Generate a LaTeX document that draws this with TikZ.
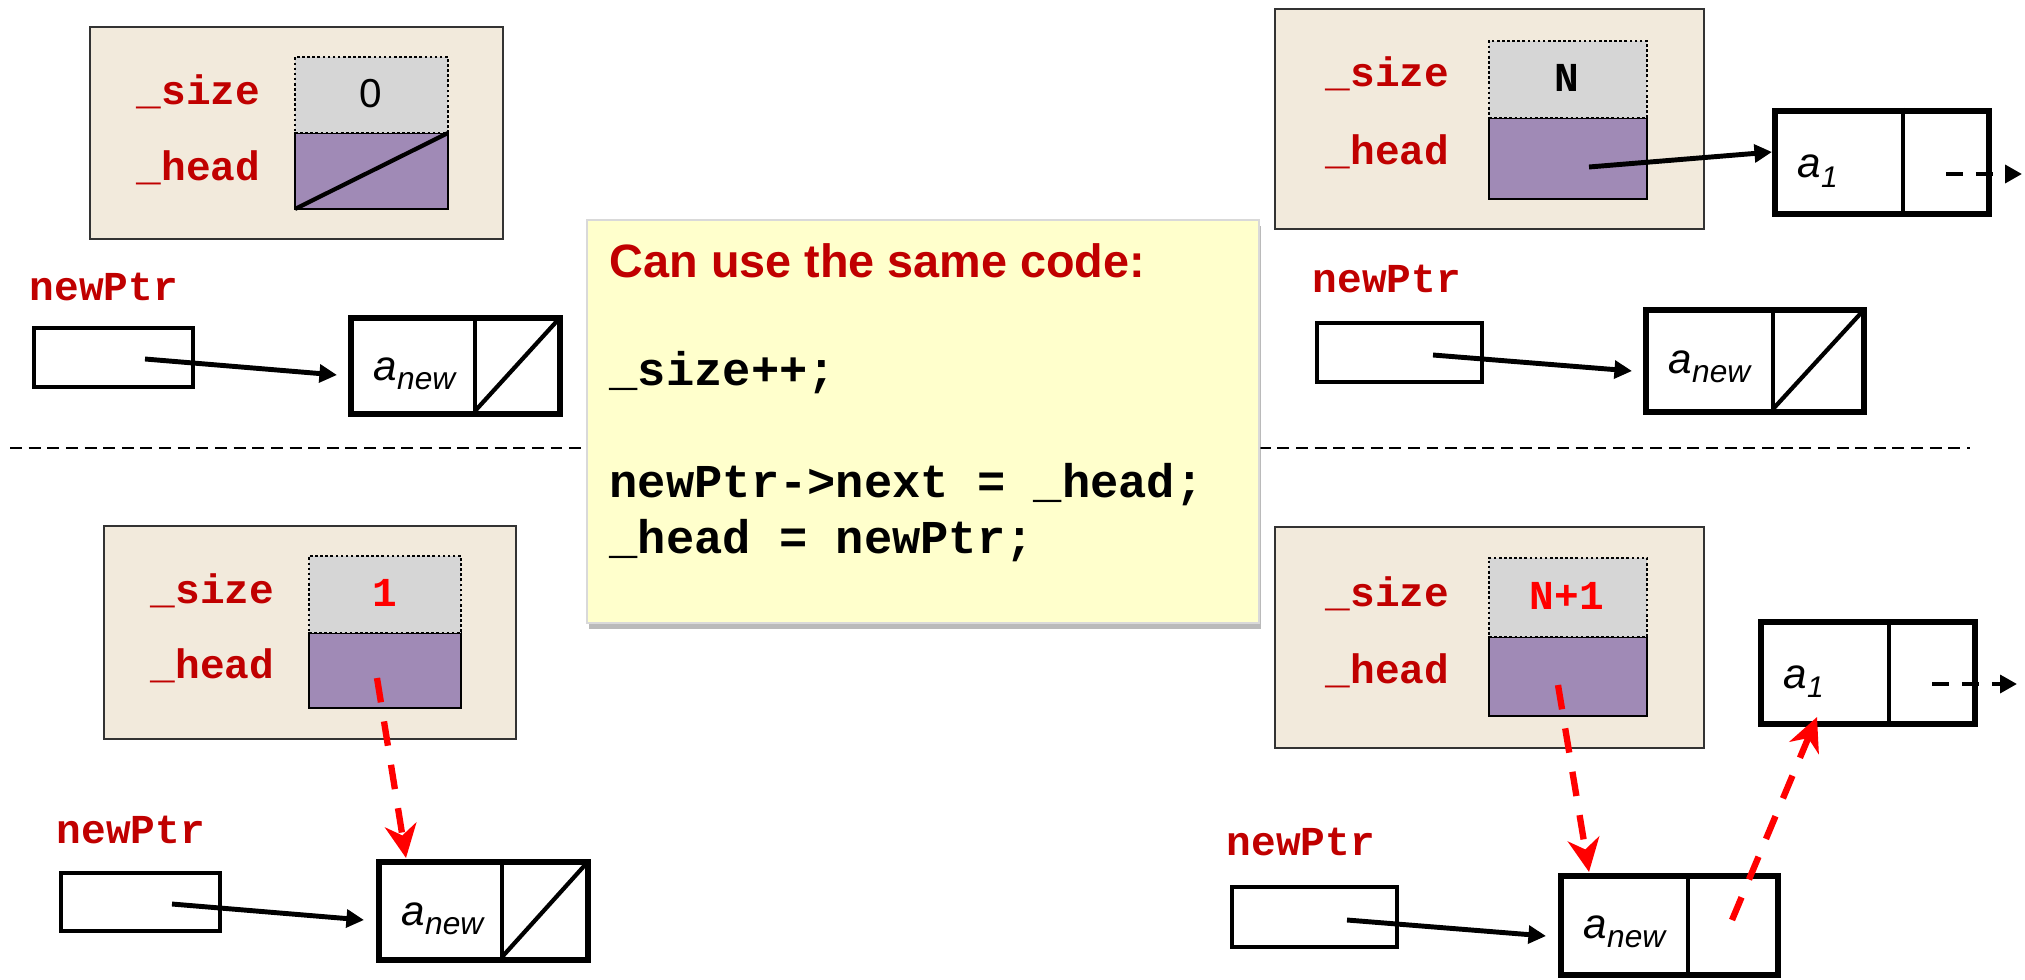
\documentclass[tikz,border=0pt]{standalone}
\usepackage{fontspec}
\setmainfont{Liberation Sans}
\newfontfamily\cmono{Liberation Mono}
\usetikzlibrary{arrows.meta,shadows}
\definecolor{beige}{HTML}{F2EADC}
\definecolor{cellgray}{HTML}{D6D6D6}
\definecolor{headpurple}{HTML}{A08AB6}
\definecolor{lblred}{HTML}{C00000}
\definecolor{brightred}{HTML}{FF0000}
\definecolor{noteyellow}{HTML}{FFFFCC}
\newcommand\rbox[6]{\node[#2, inner sep=0pt, outer sep=0pt, minimum width={(#5-#3)*0.01cm}, minimum height={(#6-#4)*0.01cm}] (#1) at ({(#3+#5)/2},{(#4+#6)/2}) {};}
\newcommand\elsub[1]{\raisebox{-2.8pt}{\fontsize{9pt}{10pt}\selectfont #1}}
\newcommand\elsubone[1]{\raisebox{-2.6pt}{\fontsize{8.5pt}{10pt}\selectfont #1}}
\begin{document}
\begin{tikzpicture}[x=0.01cm,y=-0.01cm,
  panel/.style={fill=beige, draw=black!80, line width=0.6pt},
  sizecell/.style={fill=cellgray, draw=black, line width=0.75pt, dash pattern=on 0.75pt off 0.7pt},
  headcell/.style={fill=headpurple, draw=black, line width=0.8pt},
  ptrbox/.style={draw=black, line width=1.1pt, fill=white},
  cellspace/.style={},
  outer/.style={draw=black, line width=1.7pt},
  divider/.style={line width=1pt},
  diag/.style={line width=1.2pt},
  ptrarrow/.style={line width=1.4pt, -{Triangle[length=5pt,width=5pt]}},
  redarrow/.style={draw=brightred, line width=1.8pt, dash pattern=on 7pt off 5.5pt, -{Stealth[length=9.5pt,width=9pt,inset=3pt]}},
  nextarrow/.style={line width=1.2pt, dash pattern=on 4.8pt off 3.7pt, -{Triangle[length=4.8pt,width=5pt]}},
  sepline/.style={line width=0.6pt, dash pattern=on 3.4pt off 1.9pt},
  notebox/.style={fill=noteyellow, draw=black!15, line width=0.4pt, drop shadow={shadow xshift=0.6pt, shadow yshift=-1.8pt, fill=black!45, opacity=0.6}},
  lbl/.style={anchor=base west, inner sep=0pt, text=lblred, font=\cmono\bfseries\fontsize{11.7pt}{14pt}\selectfont},
  val/.style={anchor=base, inner sep=0pt, font=\cmono\bfseries\fontsize{11.7pt}{14pt}\selectfont},
  zero/.style={anchor=base, inner sep=0pt, font=\fontsize{11.5pt}{13pt}\selectfont},
  elem/.style={anchor=base west, inner sep=0pt, font=\itshape\fontsize{12pt}{14pt}\selectfont},
  title/.style={anchor=base west, inner sep=0pt, text=lblred, font=\bfseries\fontsize{13.3pt}{16pt}\selectfont},
  code/.style={anchor=base west, inner sep=0pt, font=\cmono\bfseries\fontsize{13.4pt}{16pt}\selectfont}
]
\useasboundingbox (0,0) rectangle (2025,979);
% separator
\coordinate (sepL) at (10,448);
\coordinate (sepR) at (1970,448);
\draw[sepline] (sepL) -- (sepR);

% ---------- top left ----------
\rbox{aBg}{panel}{90}{27}{503}{239}
\rbox{aHead}{headcell}{295}{133}{448}{209}
\rbox{aSize}{sizecell}{295}{57}{448}{133}
\draw[diag] (aHead.south west) -- (aHead.north east);
\node[lbl] (aSizeL) at (136,105) {\_size};
\node[lbl] (aHeadL) at (136,180) {\_head};
\node[zero] (aSizeV) at (371,107) {0};
\node[lbl] (aPtrL) at (29,300) {newPtr};
\rbox{aPtr}{ptrbox}{34}{328}{193}{387}
\rbox{aNewD}{cellspace}{348}{315}{475}{417}
\rbox{aNewP}{cellspace}{475}{315}{563}{417}
\draw[divider] (aNewD.north east) -- (aNewD.south east);
\draw[diag] ([shift={(0,-6)}]aNewP.south west) -- ([shift={(-6,6)}]aNewP.north east);
\draw[outer] ([shift={(3,3)}]aNewD.north west) rectangle ([shift={(-3,-3)}]aNewP.south east);
\node[elem] (aNewT) at (373,380) {a\elsub{new}};
\draw[ptrarrow] ([shift={(31.5,1.5)}]aPtr.center) -- ([shift={(-11,9)}]aNewD.west);

% ---------- top right ----------
\rbox{bBg}{panel}{1275}{9}{1704}{229}
\rbox{bHead}{headcell}{1489}{118}{1647}{199}
\rbox{bSize}{sizecell}{1489}{41}{1647}{118}
\node[lbl] (bSizeL) at (1325,87) {\_size};
\node[lbl] (bHeadL) at (1325,165) {\_head};
\node[val] (bSizeV) at (1567,92) {N};
\node[lbl] (bPtrL) at (1312,292) {newPtr};
\rbox{bPtr}{ptrbox}{1317}{323}{1482}{382}
\rbox{b1D}{cellspace}{1772}{108}{1903}{217}
\rbox{b1P}{cellspace}{1903}{108}{1992}{217}
\draw[divider] (b1D.north east) -- (b1D.south east);
\draw[outer] ([shift={(3,3)}]b1D.north west) rectangle ([shift={(-3,-3)}]b1P.south east);
\node[elem] (b1T) at (1797,178) {a\elsubone{1}};
\coordinate (bNextEnd) at (2022,174);
\draw[nextarrow] ([shift={(-1.5,11.5)}]b1P.center) -- (bNextEnd);
\rbox{bNewD}{cellspace}{1643}{307}{1773}{415}
\rbox{bNewP}{cellspace}{1773}{307}{1867}{415}
\draw[divider] (bNewD.north east) -- (bNewD.south east);
\draw[diag] ([shift={(0,-6)}]bNewP.south west) -- ([shift={(-6,6)}]bNewP.north east);
\draw[outer] ([shift={(3,3)}]bNewD.north west) rectangle ([shift={(-3,-3)}]bNewP.south east);
\node[elem] (bNewT) at (1668,373) {a\elsub{new}};
\draw[ptrarrow] ([shift={(21,8.5)}]bHead.center) -- ([shift={(0,-10.5)}]b1D.west);
\draw[ptrarrow] ([shift={(33.5,2.5)}]bPtr.center) -- ([shift={(-11,10)}]bNewD.west);

% ---------- bottom left ----------
\rbox{cBg}{panel}{104}{526}{516}{739}
\rbox{cHead}{headcell}{309}{633}{461}{708}
\rbox{cSize}{sizecell}{309}{556}{461}{633}
\node[lbl] (cSizeL) at (150,603) {\_size};
\node[lbl] (cHeadL) at (150,678) {\_head};
\node[val, text=brightred] (cSizeV) at (385,606) {1};
\node[lbl] (cPtrL) at (56,843) {newPtr};
\rbox{cPtr}{ptrbox}{61}{873}{220}{931}
\rbox{cNewD}{cellspace}{376}{859}{502}{963}
\rbox{cNewP}{cellspace}{502}{859}{591}{963}
\draw[divider] (cNewD.north east) -- (cNewD.south east);
\draw[diag] ([shift={(0,-6)}]cNewP.south west) -- ([shift={(-6,6)}]cNewP.north east);
\draw[outer] ([shift={(3,3)}]cNewD.north west) rectangle ([shift={(-3,-3)}]cNewP.south east);
\node[elem] (cNewT) at (401,925) {a\elsub{new}};
\draw[ptrarrow] ([shift={(31.5,2)}]cPtr.center) -- ([shift={(-12,9)}]cNewD.west);
\draw[redarrow] ([shift={(-8,7.5)}]cHead.center) -- ([shift={(-33,-1)}]cNewD.north);

% ---------- bottom right ----------
\rbox{dBg}{panel}{1275}{527}{1704}{748}
\rbox{dHead}{headcell}{1489}{637}{1647}{716}
\rbox{dSize}{sizecell}{1489}{558}{1647}{637}
\node[lbl] (dSizeL) at (1325,606) {\_size};
\node[lbl] (dHeadL) at (1325,683) {\_head};
\node[val, text=brightred] (dSizeV) at (1567,609) {N+1};
\node[lbl] (dPtrL) at (1226,855) {newPtr};
\rbox{dPtr}{ptrbox}{1232}{887}{1397}{947}
\rbox{d1D}{cellspace}{1758}{619}{1889}{727}
\rbox{d1P}{cellspace}{1889}{619}{1978}{727}
\draw[divider] (d1D.north east) -- (d1D.south east);
\draw[outer] ([shift={(3,3)}]d1D.north west) rectangle ([shift={(-3,-3)}]d1P.south east);
\node[elem] (d1T) at (1783,688) {a\elsubone{1}};
\coordinate (dNextEnd) at (2017,684);
\draw[nextarrow] ([shift={(-1.5,11)}]d1P.center) -- (dNextEnd);
\rbox{dNewD}{cellspace}{1558}{873}{1688}{978}
\rbox{dNewP}{cellspace}{1688}{873}{1781}{978}
\draw[divider] (dNewD.north east) -- (dNewD.south east);
\draw[outer] ([shift={(3,3)}]dNewD.north west) rectangle ([shift={(-3,-3)}]dNewP.south east);
\node[elem] (dNewT) at (1583,938) {a\elsub{new}};
\draw[ptrarrow] ([shift={(32.5,3)}]dPtr.center) -- ([shift={(-12,10.5)}]dNewD.west);
\draw[redarrow] ([shift={(-10,8.5)}]dHead.center) -- ([shift={(-34,-1)}]dNewD.north);
\draw[redarrow] ([shift={(-2.5,-5.5)}]dNewP.center) -- ([shift={(-6.5,-10)}]d1D.south);

% ---------- note ----------
\rbox{note}{notebox}{587}{220}{1259}{623}
\node[title] (noteT) at (609,277) {Can use the same code:};
\node[code] (codeA) at (609,385) {\_size++;};
\node[code] (codeB) at (609,497) {newPtr->next = \_head;};
\node[code] (codeC) at (609,553) {\_head = newPtr;};
\end{tikzpicture}
\end{document}
